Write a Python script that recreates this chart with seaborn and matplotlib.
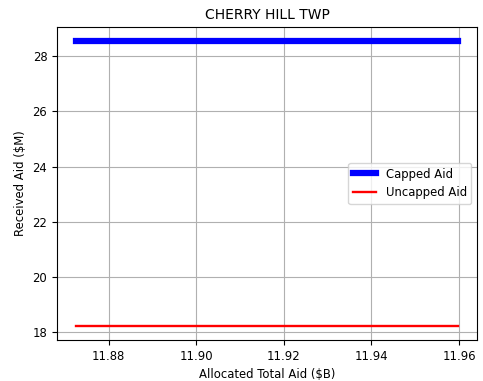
import matplotlib
matplotlib.use('Agg')
import matplotlib.pyplot as plt
import seaborn as sns

# Allocated total aid ($B) and received aid ($M) for the town
allocated = [11.8726, 11.8944, 11.9162, 11.9380, 11.9598]
capped_aid = [28.55, 28.55, 28.55, 28.55, 28.55]
uncapped_aid = [18.22, 18.22, 18.22, 18.22, 18.22]

plt.rcParams['font.size'] = 8.4

fig, ax = plt.subplots(figsize=(4.83, 3.81), dpi=100)

sns.lineplot(x=allocated, y=capped_aid, color='blue', linewidth=4.5, label='Capped Aid', ax=ax)
sns.lineplot(x=allocated, y=uncapped_aid, color='red', linewidth=1.7, label='Uncapped Aid', ax=ax)

ax.set_title('CHERRY HILL TWP', fontsize=10)
ax.set_xlabel('Allocated Total Aid ($B)')
ax.set_ylabel('Received Aid ($M)')
ax.set_xticks([11.88, 11.90, 11.92, 11.94, 11.96])
ax.grid(True)
ax.legend(loc='center right')

plt.subplots_adjust(left=0.118, right=0.988, top=0.929, bottom=0.108)
plt.savefig('out.png', dpi=100)
